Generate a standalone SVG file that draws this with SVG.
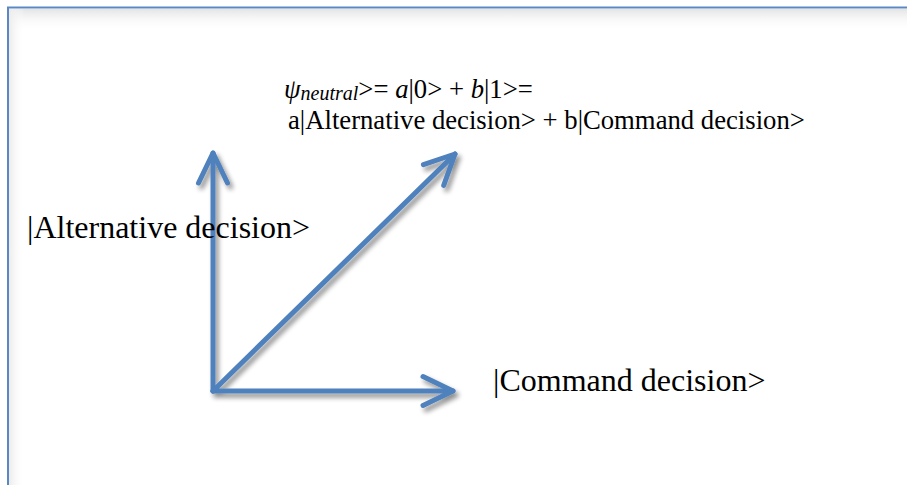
<svg xmlns="http://www.w3.org/2000/svg" width="907" height="485" viewBox="0 0 907 485">
  <style>
    .t { font-family: "Liberation Serif", "Times New Roman", serif; fill: #000; }
    .ax { fill: none; stroke: #4f81bd; stroke-width: 5; stroke-linecap: round; stroke-linejoin: round; }
  </style>
  <defs>
    <linearGradient id="topShade" x1="0" y1="0" x2="0" y2="1">
      <stop offset="0" stop-color="#e4e4e4"/>
      <stop offset="1" stop-color="#ffffff" stop-opacity="0"/>
    </linearGradient>
    <linearGradient id="leftShade" x1="0" y1="0" x2="1" y2="0">
      <stop offset="0" stop-color="#ececec"/>
      <stop offset="1" stop-color="#ffffff" stop-opacity="0"/>
    </linearGradient>
    <filter id="shadow" x="-20%" y="-20%" width="140%" height="140%">
      <feGaussianBlur in="SourceAlpha" stdDeviation="2.5"/>
      <feOffset dx="3" dy="4" result="b"/>
      <feComponentTransfer in="b" result="s">
        <feFuncA type="linear" slope="0.45"/>
      </feComponentTransfer>
      <feMerge>
        <feMergeNode in="s"/>
        <feMergeNode in="SourceGraphic"/>
      </feMerge>
    </filter>
    <marker id="chev" markerUnits="userSpaceOnUse" markerWidth="80" markerHeight="80" refX="0" refY="0" orient="auto" overflow="visible">
      <path d="M -30 -14.5 L 0 0 L -30 14.5" fill="none" stroke="#4f81bd" stroke-width="5" stroke-linecap="round" stroke-linejoin="round"/>
    </marker>
  </defs>

  <rect x="0" y="0" width="907" height="485" fill="#ffffff"/>

  <g id="frame">
    <rect x="9" y="9" width="898" height="22" fill="url(#topShade)"/>
    <rect x="9" y="9" width="16" height="476" fill="url(#leftShade)"/>
    <path d="M 8 485 L 8 7.5 L 907 7.5" fill="none" stroke="#5b87c5" stroke-width="2"/>
  </g>

  <g id="connectors" filter="url(#shadow)">
    <line class="ax" x1="213" y1="391" x2="213" y2="153" marker-end="url(#chev)"/>
    <line class="ax" x1="213" y1="391" x2="453" y2="391" marker-end="url(#chev)"/>
    <line class="ax" x1="213" y1="391" x2="455" y2="154" marker-end="url(#chev)"/>
  </g>

  <g id="label-alternative">
    <text class="t" x="27" y="238" font-size="32">|Alternative decision&gt;</text>
  </g>

  <g id="label-command">
    <text class="t" x="493" y="391" font-size="32">|Command decision&gt;</text>
  </g>

  <g id="label-state">
    <text class="t" x="284" y="98" font-size="26.7"><tspan font-style="italic">ψ</tspan><tspan font-style="italic" font-size="20" dy="2">neutral</tspan><tspan dy="-2">&gt;= </tspan><tspan font-style="italic">a</tspan><tspan>|0&gt; + </tspan><tspan font-style="italic">b</tspan><tspan>|1&gt;=</tspan></text>
    <text class="t" x="288" y="129" font-size="26.7">a|Alternative decision&gt; + b|Command decision&gt;</text>
  </g>
</svg>
